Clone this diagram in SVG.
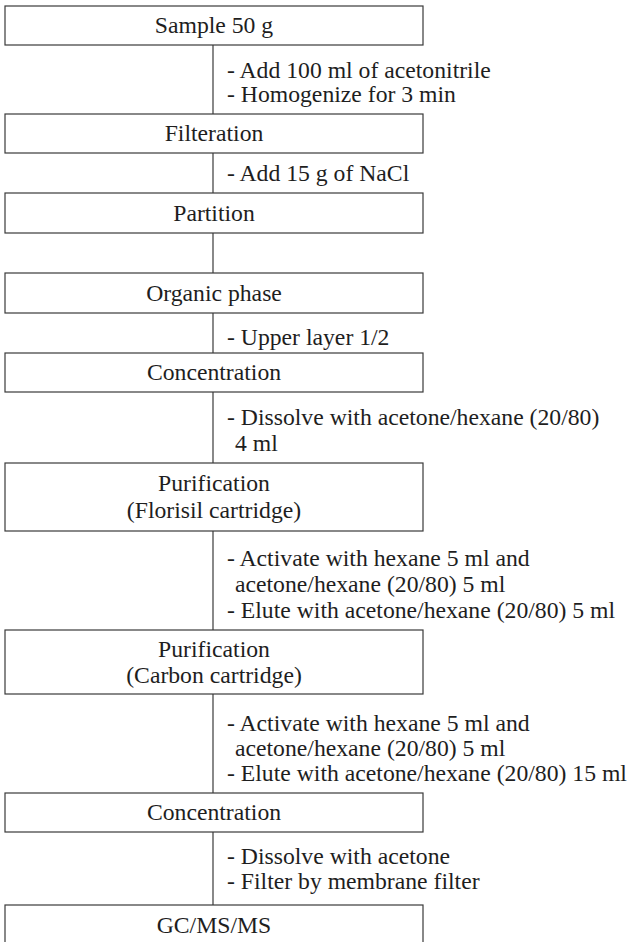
<svg xmlns="http://www.w3.org/2000/svg" width="628" height="942" viewBox="0 0 628 942">
<style>
.box{fill:#fff;stroke:#3a3a3a;stroke-width:1.2}
.conn{stroke:#3a3a3a;stroke-width:1.2;fill:none}
text{font-family:"Liberation Serif","Times New Roman",serif;font-size:23.7px;fill:#1e1e1e}
.c{text-anchor:middle}
</style>
<rect width="628" height="942" fill="#fff"/>
<g id="connectors">
<line class="conn" x1="213" y1="45" x2="213" y2="114"/>
<line class="conn" x1="213" y1="153" x2="213" y2="193"/>
<line class="conn" x1="213" y1="233" x2="213" y2="273"/>
<line class="conn" x1="213" y1="313" x2="213" y2="353"/>
<line class="conn" x1="213" y1="392" x2="213" y2="463"/>
<line class="conn" x1="213" y1="531" x2="213" y2="630"/>
<line class="conn" x1="213" y1="694" x2="213" y2="793"/>
<line class="conn" x1="213" y1="832" x2="213" y2="905"/>
</g>
<g id="step-labels">
<text x="227" y="78">- Add 100 ml of acetonitrile</text>
<text x="227" y="102">- Homogenize for 3 min</text>
<text x="227" y="181">- Add 15 g of NaCl</text>
<text x="227" y="345">- Upper layer 1/2</text>
<text x="227" y="425">- Dissolve with acetone/hexane (20/80)</text>
<text x="235" y="451">4 ml</text>
<text x="227" y="566">- Activate with hexane 5 ml and</text>
<text x="235" y="592">acetone/hexane (20/80) 5 ml</text>
<text x="227" y="618">- Elute with acetone/hexane (20/80) 5 ml</text>
<text x="227" y="731">- Activate with hexane 5 ml and</text>
<text x="235" y="756">acetone/hexane (20/80) 5 ml</text>
<text x="227" y="781">- Elute with acetone/hexane (20/80) 15 ml</text>
<text x="227" y="864">- Dissolve with acetone</text>
<text x="227" y="889">- Filter by membrane filter</text>
</g>
<g id="n-sample"><rect class="box" x="5" y="6" width="418" height="39"/><text class="c" x="214" y="33">Sample 50 g</text></g>
<g id="n-filteration"><rect class="box" x="5" y="114" width="418" height="39"/><text class="c" x="214" y="141">Filteration</text></g>
<g id="n-partition"><rect class="box" x="5" y="193" width="418" height="40"/><text class="c" x="214" y="221">Partition</text></g>
<g id="n-organic"><rect class="box" x="5" y="273" width="418" height="40"/><text class="c" x="214" y="301">Organic phase</text></g>
<g id="n-conc1"><rect class="box" x="5" y="353" width="418" height="39"/><text class="c" x="214" y="380">Concentration</text></g>
<g id="n-florisil"><rect class="box" x="5" y="463" width="418" height="68"/><text class="c" x="214" y="491">Purification</text><text class="c" x="214" y="518">(Florisil cartridge)</text></g>
<g id="n-carbon"><rect class="box" x="5" y="630" width="418" height="64"/><text class="c" x="214" y="657">Purification</text><text class="c" x="214" y="683">(Carbon cartridge)</text></g>
<g id="n-conc2"><rect class="box" x="5" y="793" width="418" height="39"/><text class="c" x="214" y="820">Concentration</text></g>
<g id="n-gcms"><rect class="box" x="5" y="905" width="418" height="60"/><text class="c" x="214" y="933">GC/MS/MS</text></g>
</svg>
